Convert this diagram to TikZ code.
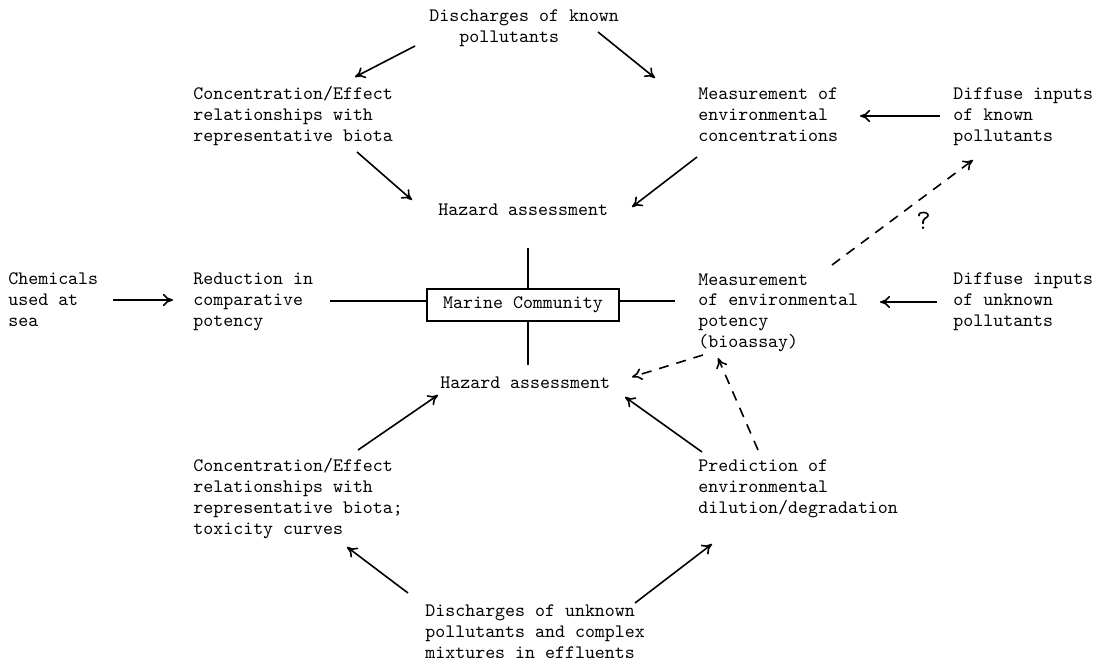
\documentclass[tikz,border=0pt]{standalone}
\usepackage{tikz}
\usetikzlibrary{arrows.meta}

\begin{document}
\begin{tikzpicture}[x=0.5pt, y=-0.5pt,
    font=\fontsize{9.5}{10.5}\selectfont\ttfamily,
    txt/.style={anchor=base west, align=left, inner sep=0pt},
    arr/.style={-{To[length=5pt,width=6pt]}, line width=0.8pt},
    darr/.style={arr, dash pattern=on 5pt off 4pt},
    link/.style={line width=0.8pt}]
    \useasboundingbox (0,0) rectangle (1112,662);

    % Known pollutants (nodes sit on the baseline of their last line)
    \node[txt] (disK) at (429,43) {Discharges of known\\\hphantom{Dis}pollutants};
    \node[txt] (cefTop) at (193,142) {Concentration/Effect\\relationships with\\representative biota};
    \node[txt] (measConc) at (698,142) {Measurement of\\environmental\\concentrations};
    \node[txt] (diffK) at (953,142) {Diffuse inputs\\of known\\pollutants};
    \node[txt] (hazTop) at (438,216) {Hazard assessment};

    % Middle row
    \node[txt] (chem) at (8,327) {Chemicals\\used at\\sea};
    \node[txt] (reduc) at (193,327) {Reduction in\\comparative\\potency};
    \node[draw, line width=0.9pt, minimum width=96pt, minimum height=16pt, inner sep=0pt] (box) at (523,305) {Marine Community};
    \node[txt] (measPot) at (698,348) {Measurement\\of environmental\\potency\\(bioassay)};
    \node[txt] (diffU) at (953,327) {Diffuse inputs\\of unknown\\pollutants};
    \node[txt] (hazBot) at (440,388) {Hazard assessment};
    \node[txt, font=\fontsize{14}{14}\selectfont\ttfamily] (quest) at (916,230) {?};

    % Unknown pollutants
    \node[txt] (cefBot) at (193,534) {Concentration/Effect\\relationships with\\representative biota;\\toxicity curves};
    \node[txt] (pred) at (698,513) {Prediction of\\environmental\\dilution/degradation};
    \node[txt] (disU) at (425,658) {Discharges of unknown\\pollutants and complex\\mixtures in effluents};

    % Upper loop
    \draw[arr] ([shift={(-14,3)}]disK.base west) -- ([shift={(162,-65)}]cefTop.base west);
    \draw[arr] ([shift={(169,-11)}]disK.base west) -- ([shift={(-43,-64)}]measConc.base west);
    \draw[arr] ([shift={(164,10)}]cefTop.base west) -- ([shift={(-26,-16)}]hazTop.base west);
    \draw[arr] ([shift={(-1,15)}]measConc.base west) -- ([shift={(194,-9)}]hazTop.base west);
    \draw[arr] ([shift={(-13,-26)}]diffK.base west) -- ([shift={(162,-26)}]measConc.base west);

    % Marine Community cross
    \draw[arr] ([shift={(105,-27)}]chem.base west) -- ([shift={(-20,-27)}]reduc.base west);
    \draw[link] ([yshift=2pt]box.west) -- ([shift={(137,-26)}]reduc.base west);
    \draw[link] ([yshift=2pt]box.east) -- ([shift={(-23,-47)}]measPot.base west);
    \draw[link] ([xshift=2.5pt]box.north) -- ([shift={(90,32)}]hazTop.base west);
    \draw[link] ([xshift=2.5pt]box.south) -- ([shift={(88,-23)}]hazBot.base west);
    \draw[arr] ([shift={(-16,-25)}]diffU.base west) -- ([shift={(182,-46)}]measPot.base west);

    % Dashed links
    \draw[darr] ([shift={(134,-83)}]measPot.base west) -- ([shift={(20,18)}]diffK.base west);
    \draw[darr] ([shift={(5,7)}]measPot.base west) -- ([shift={(192,-11)}]hazBot.base west);
    \draw[darr] ([shift={(60,-63)}]pred.base west) -- ([shift={(20,10)}]measPot.base west);

    % Lower loop
    \draw[arr] ([shift={(165,-84)}]cefBot.base west) -- ([shift={(-2,7)}]hazBot.base west);
    \draw[arr] ([shift={(4,-61)}]pred.base west) -- ([shift={(185,9)}]hazBot.base west);
    \draw[arr] ([shift={(-17,-65)}]disU.base west) -- ([shift={(154,13)}]cefBot.base west);
    \draw[arr] ([shift={(210,-55)}]disU.base west) -- ([shift={(14,31)}]pred.base west);
\end{tikzpicture}
\end{document}
